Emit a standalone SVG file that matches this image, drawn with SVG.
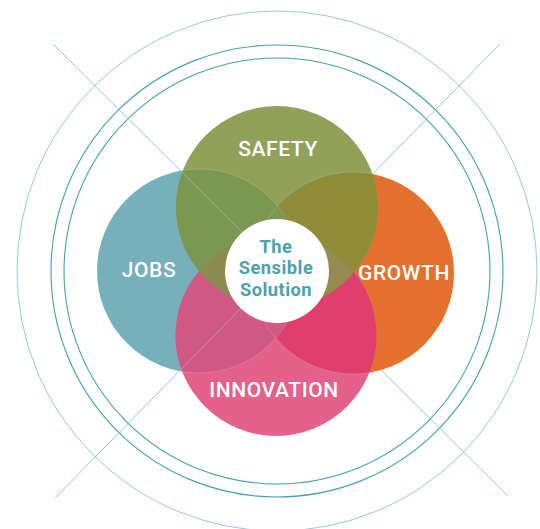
<svg xmlns="http://www.w3.org/2000/svg" width="540" height="529" viewBox="0 0 540 529">
<style>
.ring{fill:none;stroke:#45a0ac;stroke-width:1.1}
.ring-thin{fill:none;stroke:#78bcc6;stroke-width:0.8}
.diag{stroke:#86c3cb;stroke-width:0.9;fill:none}
.diag-over{stroke:#a9cfc9;stroke-width:0.9;fill:none;opacity:0.55}
.label{font-family:Roboto,"Liberation Sans",sans-serif;font-weight:500;font-size:21px;fill:#ffffff;text-anchor:middle;letter-spacing:0.6px}
.center-text{font-family:Roboto,"Liberation Sans",sans-serif;font-weight:700;font-size:18.3px;fill:#4aa2ad;text-anchor:middle;letter-spacing:0.5px}
.edge{fill:none;stroke:#ffffff;stroke-opacity:0.25;stroke-width:0.6}
</style>
<defs>
<clipPath id="cS"><circle cx="277" cy="207" r="101"/></clipPath>
<clipPath id="cJ"><circle cx="199" cy="271" r="102"/></clipPath>
<clipPath id="cG"><circle cx="353" cy="273" r="101"/></clipPath>
<clipPath id="cI"><circle cx="276" cy="335.5" r="100.5"/></clipPath>
</defs>
<rect width="540" height="529" fill="#ffffff"/>
<g id="connectors">
<circle class="ring-thin" cx="277" cy="271" r="260"/>
<circle class="ring" cx="277" cy="271" r="226"/>
<circle class="ring" cx="277" cy="271" r="213"/>
<line class="diag" x1="53" y1="44" x2="508" y2="496"/>
<line class="diag" x1="500" y1="44" x2="55" y2="498"/>
</g>
<g id="jobs"><circle cx="199" cy="271" r="102" fill="#75b0bb"/></g>
<g id="growth"><circle cx="353" cy="273" r="101" fill="#e3712d"/></g>
<g id="safety"><circle cx="277" cy="207" r="101" fill="#91a15a"/></g>
<g id="innovation"><circle cx="276" cy="335.5" r="100.5" fill="#e3618b"/></g>
<g id="overlaps">
<g clip-path="url(#cI)"><circle cx="353" cy="273" r="101" fill="#e03f6e"/></g>
<g clip-path="url(#cS)"><circle cx="353" cy="273" r="101" fill="#8f8b37"/></g>
<g clip-path="url(#cI)"><circle cx="199" cy="271" r="102" fill="#d05885"/></g>
<g clip-path="url(#cS)"><circle cx="199" cy="271" r="102" fill="#7a9851"/></g>
<g clip-path="url(#cS)"><g clip-path="url(#cI)"><circle cx="199" cy="271" r="102" fill="#8b8a4f"/></g></g>
<g clip-path="url(#cS)"><g clip-path="url(#cI)"><circle cx="353" cy="273" r="101" fill="#948a52"/></g></g>
<g clip-path="url(#cS)"><circle class="edge" cx="199" cy="271" r="102"/><circle class="edge" cx="353" cy="273" r="101"/></g>
<g clip-path="url(#cI)"><circle class="edge" cx="199" cy="271" r="102"/><circle class="edge" cx="353" cy="273" r="101"/></g>
</g>
<g id="diag-overlay" clip-path="url(#cJ)">
<line class="diag-over" x1="53" y1="44" x2="508" y2="496"/>
<line class="diag-over" x1="500" y1="44" x2="55" y2="498"/>
</g>
<g id="center">
<circle cx="277" cy="271" r="52" fill="#ffffff"/>
<text class="center-text" x="276" y="252.5">The</text>
<text class="center-text" x="276" y="274">Sensible</text>
<text class="center-text" x="276" y="295.5">Solution</text>
</g>
<g id="labels">
<text class="label" x="278" y="156">SAFETY</text>
<text class="label" x="149" y="277">JOBS</text>
<text class="label" x="404" y="280">GROWTH</text>
<text class="label" x="274" y="397">INNOVATION</text>
</g>
</svg>
